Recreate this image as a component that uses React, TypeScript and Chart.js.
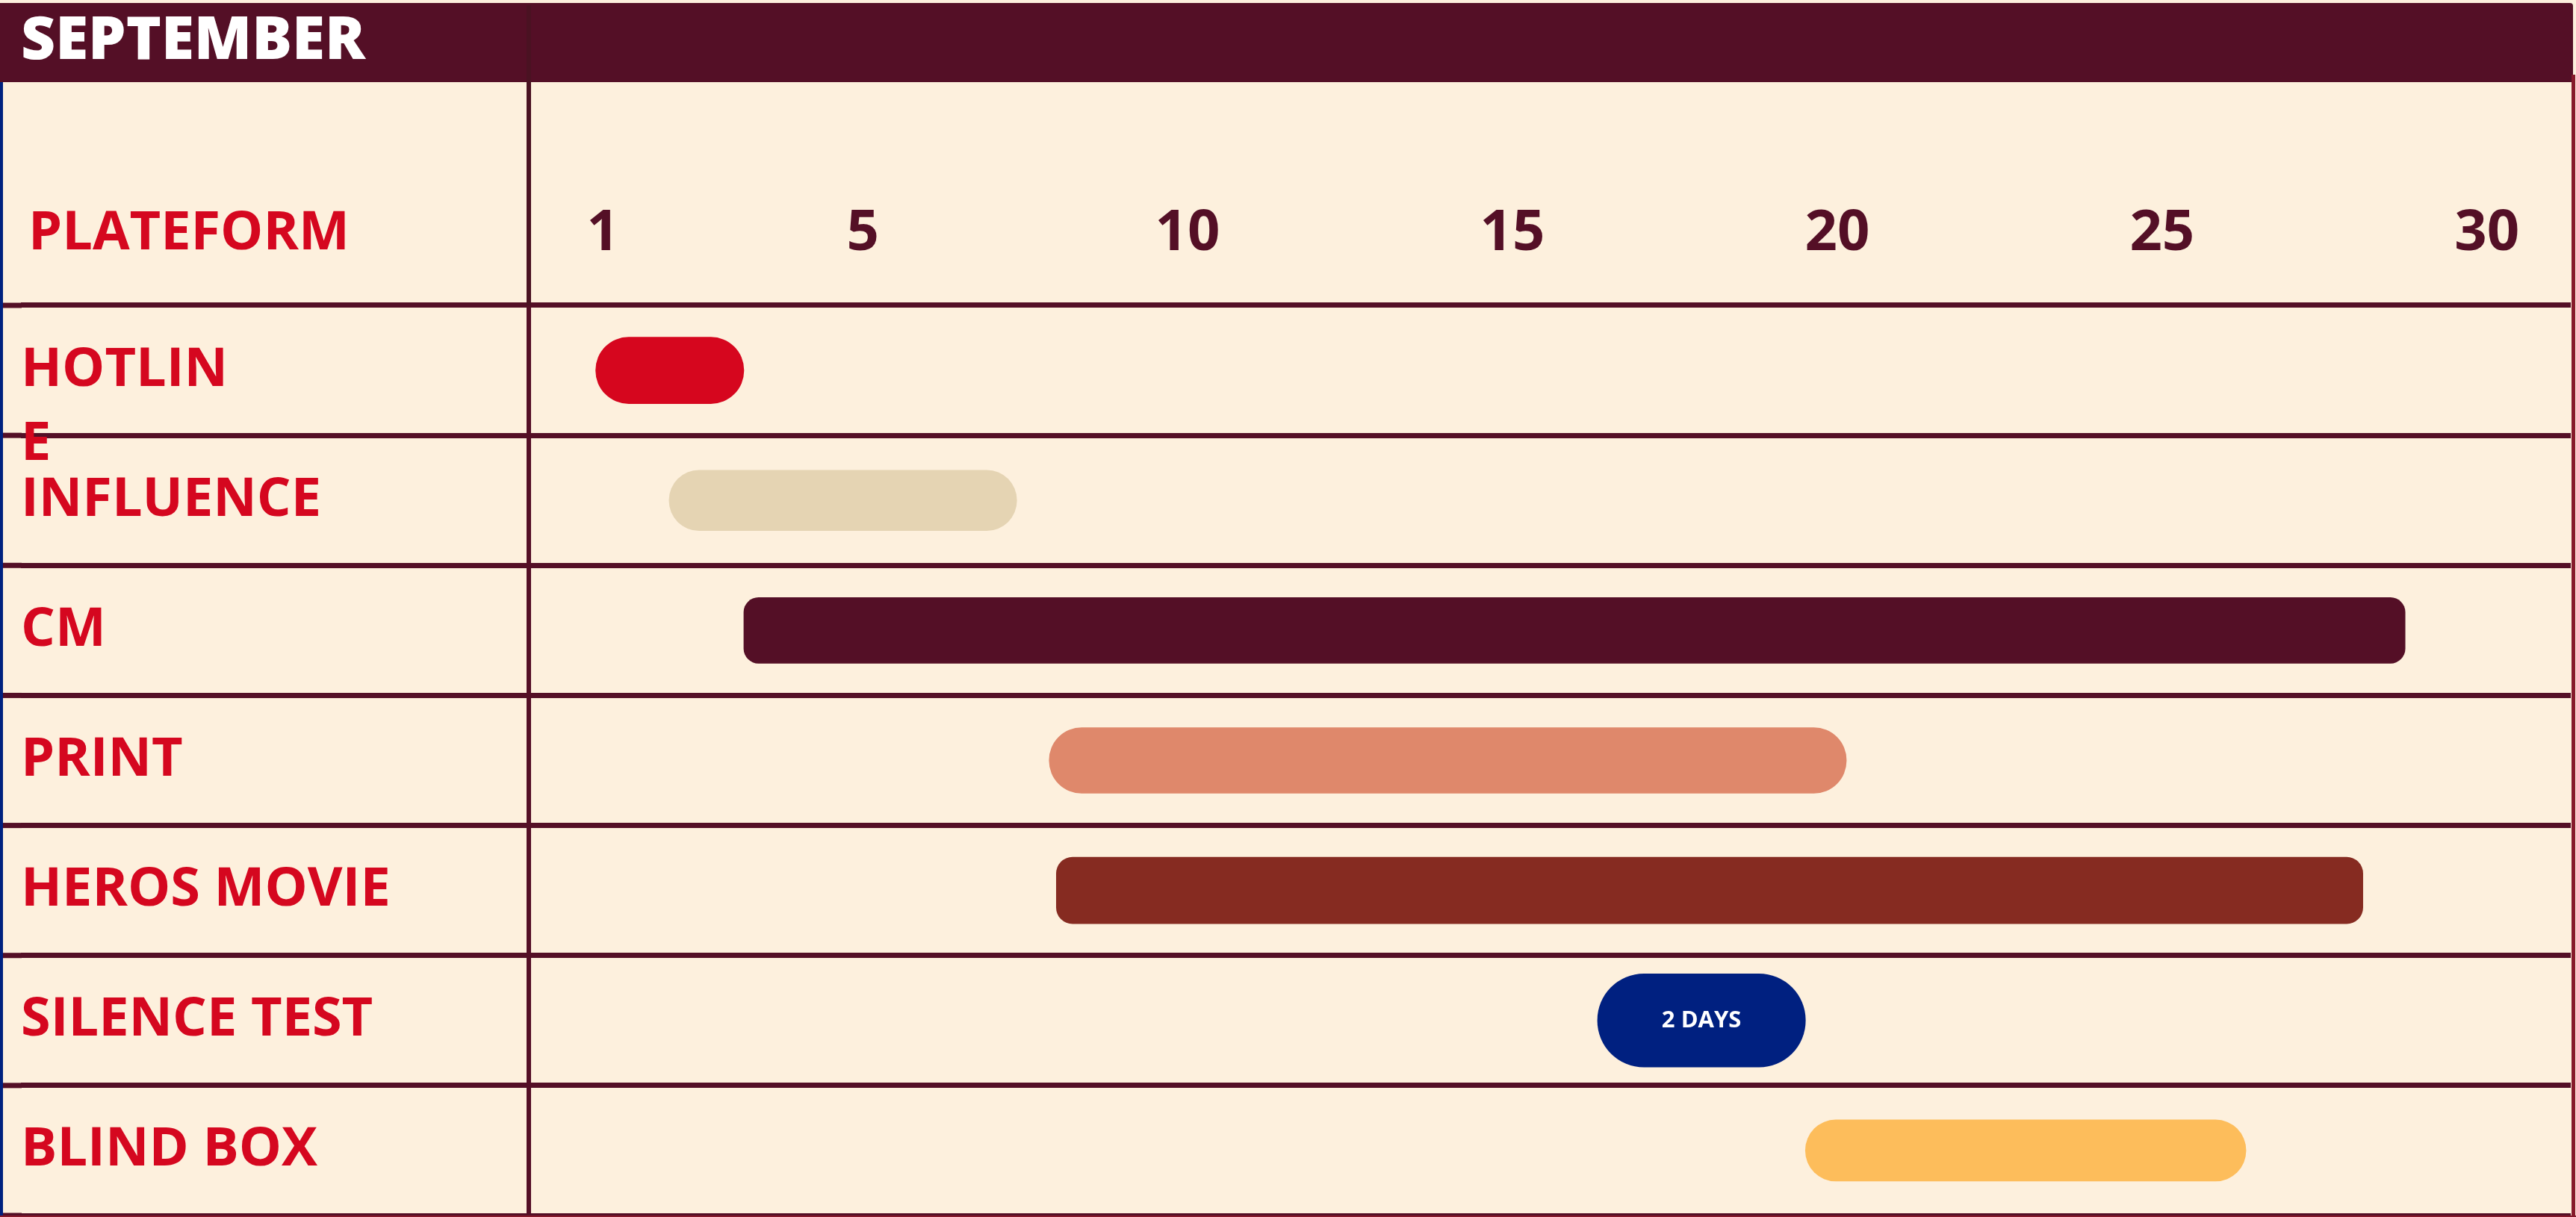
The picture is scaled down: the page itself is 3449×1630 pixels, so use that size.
import { useEffect, useRef } from 'react';
import { Chart, registerables } from 'chart.js';

Chart.register(...registerables);

// ---------- data ----------
const MONTH = 'SEPTEMBER';
const COLUMN_HEADER = 'PLATEFORM';
const PLATFORMS: (string | string[])[] = [
  ['', 'HOTLIN', 'E'],
  'INFLUENCE',
  'CM',
  'PRINT',
  'HEROS MOVIE',
  'SILENCE TEST',
  'BLIND BOX',
];
const START_DAYS = [0.89, 2.02, 3.17, 7.87, 7.98, 16.31, 19.51];
const END_DAYS = [3.17, 7.37, 28.74, 20.14, 28.09, 19.51, 26.29];
const BAR_NOTES = ['', '', '', '', '', '2 DAYS', ''];
const DAY_TICKS = [1, 5, 10, 15, 20, 25, 30];

// ---------- styles ----------
const CREAM = '#FDF0DD';
const MAROON = '#540F26';
const RED = '#D5071F';
const FONT = "'Open Sans', 'Noto Sans', sans-serif";
const BAR_COLORS = ['#D6061E', '#E5D4B3', '#540F26', '#DF886B', '#862B21', '#002080', '#FDBD5B'];
const BAR_THICKNESS = [89, 81, 88, 88, 89, 125, 82];
const BAR_RADIUS = [999, 999, 20, 999, 22, 999, 999];
const LEFT_PAD = 28;
const LABEL_COL_W = 680;
const TOP_AXIS_H = 300;
const X_TICK_PAD = 50;
const X_TICK_SIZE = 76;

const framePlugin = {
  id: 'frame',
  beforeDraw(chart: any) {
    const { ctx, width, height } = chart;
    ctx.save();
    ctx.fillStyle = CREAM;
    ctx.fillRect(0, 0, width, height);
    ctx.fillStyle = MAROON;
    ctx.beginPath();
    ctx.roundRect(0, 4, 3445, 106, [0, 4, 0, 0]);
    ctx.fill();
    ctx.restore();
  },
  afterDraw(chart: any) {
    const { ctx } = chart;
    const y = chart.scales.y;
    const x = chart.scales.x;
    ctx.save();
    // extend row lines to the left edge
    ctx.fillStyle = MAROON;
    const n = y.ticks.length;
    for (let i = 0; i <= n; i++) {
      const py = y.getPixelForValue(i - 0.5);
      ctx.fillRect(0, py - 3.5, y.left + 1, 7);
    }
    // divider above the chart area
    ctx.fillStyle = '#4A1222';
    ctx.fillRect(chart.chartArea.left - 3, 7, 6, chart.chartArea.top - 7);
    // frame borders
    ctx.fillStyle = '#00217F';
    ctx.fillRect(0, 110, 4, chart.height - 110);
    ctx.fillStyle = '#861A2B';
    ctx.fillRect(3443, 100, 5, chart.height - 100);
    ctx.fillRect(0, chart.height - 2, chart.width, 2);
    // column header text
    ctx.fillStyle = RED;
    ctx.font = `700 72px ${FONT}`;
    ctx.textAlign = 'left';
    ctx.textBaseline = 'middle';
    const ty = x.bottom - X_TICK_PAD - (X_TICK_SIZE * 1.2) / 2;
    ctx.fillText(COLUMN_HEADER, 38, ty);
    ctx.restore();
  },
  afterDatasetsDraw(chart: any) {
    const { ctx } = chart;
    ctx.save();
    chart.data.datasets.forEach((_ds: any, i: number) => {
      const note = BAR_NOTES[i];
      if (!note) return;
      const el: any = chart.getDatasetMeta(i).data[i];
      if (!el) return;
      const cx = (el.x + el.base) / 2;
      ctx.fillStyle = '#FFFFFF';
      ctx.font = `700 31px ${FONT}`;
      ctx.textAlign = 'center';
      ctx.textBaseline = 'middle';
      ctx.fillText(note, cx, el.y);
    });
    ctx.restore();
  },
};

export default function App() {
  const ref = useRef<HTMLCanvasElement | null>(null);

  useEffect(() => {
    document.body.style.margin = '0';
    document.body.style.overflow = 'hidden';
    if (!ref.current) return;
    const datasets = PLATFORMS.map((p, i) => ({
      label: Array.isArray(p) ? p.join('') : p,
      data: PLATFORMS.map((_q, j) => (j === i ? [START_DAYS[i], END_DAYS[i]] : null)),
      backgroundColor: BAR_COLORS[i],
      barThickness: BAR_THICKNESS[i],
      borderRadius: BAR_RADIUS[i],
      borderSkipped: false,
      grouped: false,
    }));
    const chart = new Chart(ref.current, {
      type: 'bar',
      data: { labels: PLATFORMS as any, datasets: datasets as any },
      plugins: [framePlugin],
      options: {
        animation: false,
        responsive: true,
        maintainAspectRatio: false,
        indexAxis: 'y',
        layout: { padding: { left: LEFT_PAD, right: 7, top: 0, bottom: 2 } },
        plugins: {
          legend: { display: false },
          tooltip: { enabled: false },
          title: {
            display: true,
            text: MONTH,
            align: 'start',
            color: '#FFFFFF',
            font: { family: FONT, size: 80, weight: '800' },
            padding: { top: 8, bottom: 5 },
          },
        },
        scales: {
          x: {
            type: 'linear',
            position: 'top',
            min: -0.14,
            max: 31.29,
            afterBuildTicks: (scale: any) => {
              scale.ticks = DAY_TICKS.map((v) => ({ value: v }));
            },
            afterFit: (scale: any) => {
              scale.height = TOP_AXIS_H;
              scale.paddingLeft = 0;
              scale.paddingRight = 0;
            },
            grid: { display: false, drawTicks: false },
            border: { display: false },
            ticks: {
              color: MAROON,
              padding: X_TICK_PAD,
              autoSkip: false,
              maxRotation: 0,
              font: { family: FONT, size: X_TICK_SIZE, weight: 'bold' },
            },
          },
          y: {
            type: 'category',
            offset: true,
            afterFit: (scale: any) => {
              scale.width = LABEL_COL_W;
              scale.paddingTop = 0;
              scale.paddingBottom = 0;
            },
            grid: {
              offset: true,
              color: MAROON,
              lineWidth: 7,
              drawTicks: true,
              tickLength: LABEL_COL_W,
              tickColor: MAROON,
              tickWidth: 7,
            },
            border: { display: true, color: MAROON, width: 6 },
            ticks: {
              color: RED,
              crossAlign: 'far',
              autoSkip: false,
              font: { family: FONT, size: 72, weight: 'bold', lineHeight: 1.375 },
            },
          },
        },
      } as any,
    });
    return () => chart.destroy();
  }, []);

  return (
    <div style={{ position: 'absolute', left: 0, top: 0, width: '3449px', height: '1630px' }}>
      <canvas ref={ref} />
    </div>
  );
}
